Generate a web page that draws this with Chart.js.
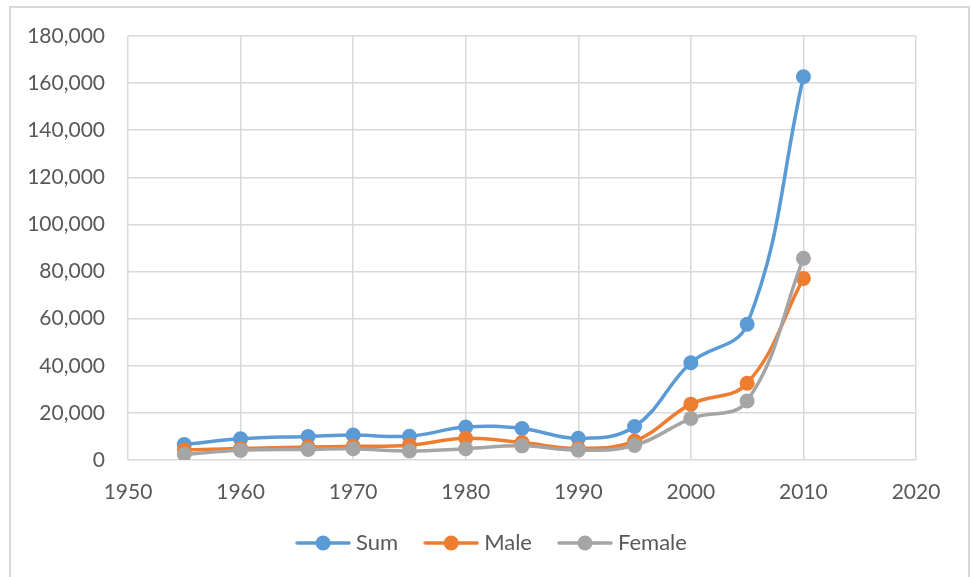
<!DOCTYPE html>
<html>
  <head>
    <meta charset="utf-8">
    <title>Sum, Male, Female</title>
    <script src="https://cdn.jsdelivr.net/npm/chart.js@4.4.1/dist/chart.umd.min.js"></script>
    <style>
      html, body { margin: 0; padding: 0; background: #fff; overflow: hidden; }
      #frame { position: absolute; left: 9px; top: 6px; width: 957px; height: 600px; border: 2px solid #d9d9d9; }
      #myChart { position: absolute; left: 0; top: 0; }
    </style>
  </head>
  <body>
    <div id="frame"></div>
    <canvas id="myChart" width="971" height="577"></canvas>
    <script>
      var years = [1955, 1960, 1966, 1970, 1975, 1980, 1985, 1990, 1995, 2000, 2005, 2010];
      var sumData = [6600, 9000, 10000, 10600, 10100, 14000, 13400, 9200, 14200, 41300, 57600, 162700];
      var maleData = [4200, 4900, 5500, 5800, 6300, 9200, 7400, 5000, 8000, 23700, 32600, 77100];
      var femaleData = [2400, 4100, 4500, 4800, 3800, 4800, 6000, 4200, 6200, 17600, 25100, 85600];
      var seriesNames = ['Sum', 'Male', 'Female'];
      var seriesColors = ['#5b9bd5', '#ed7d31', '#a5a5a5'];

      function toPoints(vals){
        var pts = [];
        for(var i=0;i<years.length;i++){
          pts.push({x: years[i], y: vals[i]});
        }
        return pts;
      }

      // little line + dot used as the legend marker
      function legendMarker(color){
        var c = document.createElement('canvas');
        c.width = 56; c.height = 16;
        var g = c.getContext('2d');
        g.strokeStyle = color;
        g.lineWidth = 3.5;
        g.lineCap = 'round';
        g.beginPath(); g.moveTo(2, 8); g.lineTo(54, 8); g.stroke();
        g.fillStyle = color;
        g.beginPath(); g.arc(28, 8, 7.5, 0, Math.PI*2); g.fill();
        return c;
      }

      var allData = [sumData, maleData, femaleData];
      var ds = [];
      for(var k=0;k<3;k++){
        ds.push({
          label: seriesNames[k],
          data: toPoints(allData[k]),
          showLine: true,
          borderColor: seriesColors[k],
          backgroundColor: seriesColors[k],
          borderWidth: 3.5,
          pointRadius: 7.5,
          pointHoverRadius: 7.5,
          pointBorderWidth: 0,
          tension: 0.4,
          order: 3 - k
        });
      }

      var fontFam = 'Lato, "Open Sans", sans-serif';
      var ctx = document.getElementById('myChart');
      var myChart = new Chart(ctx, {
        type: 'scatter',
        data: { datasets: ds },
        options: {
          responsive: false,
          animation: false,
          layout: { padding: { left: 20, right: 3, top: 36, bottom: 13 } },
          plugins: {
            tooltip: { enabled: false },
            legend: {
              position: 'bottom',
              labels: {
                font: { family: fontFam, size: 22 },
                color: '#595959',
                usePointStyle: true,
                pointStyleWidth: 44,
                padding: 31,
                sort: function(a, b){ return a.datasetIndex - b.datasetIndex; },
                generateLabels: function(chart){
                  var items = Chart.defaults.plugins.legend.labels.generateLabels(chart);
                  items.forEach(function(it){ it.pointStyle = legendMarker(seriesColors[it.datasetIndex]); });
                  return items;
                }
              }
            }
          },
          scales: {
            x: {
              type: 'linear',
              min: 1950, max: 2020,
              afterFit: function(axis){ axis.height = 41; },
              ticks: {
                stepSize: 10,
                padding: 20,
                color: '#595959',
                font: { family: fontFam, size: 21 },
                callback: function(v){ return String(v); }
              },
              grid: { color: '#d9d9d9', lineWidth: 1.5, drawTicks: false },
              border: { display: false }
            },
            y: {
              min: 0, max: 180000,
              afterFit: function(axis){ axis.width = 108; },
              ticks: {
                stepSize: 20000,
                padding: 23,
                color: '#595959',
                font: { family: fontFam, size: 21 }
              },
              grid: { color: '#d9d9d9', lineWidth: 1.5, drawTicks: false },
              border: { display: false }
            },
            // empty axis on the right, only to keep the plot where it belongs
            y2: {
              position: 'right',
              afterFit: function(axis){ axis.width = 52; },
              ticks: { display: false },
              grid: { display: false, drawTicks: false },
              border: { display: false }
            }
          }
        }
      });
    </script>
  </body>
</html>
